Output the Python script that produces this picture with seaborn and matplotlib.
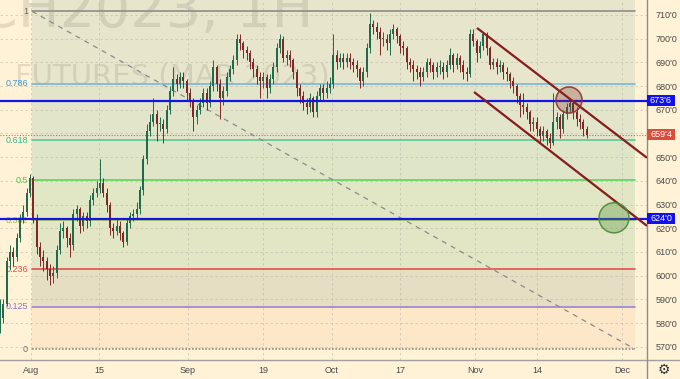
import numpy as np
import pandas as pd
import seaborn as sns
import matplotlib
matplotlib.use("Agg")
import matplotlib.pyplot as plt
import matplotlib.transforms as mtransforms
from matplotlib.patches import Ellipse, Rectangle
from matplotlib.lines import Line2D

# ---------------- data ----------------
first_open = 580
closes = [582, 588, 606, 610, 608, 616, 624, 627, 635, 641,
          624, 612, 608, 606, 603, 600, 601, 611, 619, 620,
          616, 613, 626, 628, 621, 625, 623, 632, 635, 637,
          639, 635, 630, 620, 619, 621, 618, 614, 622, 625,
          626, 628, 636, 649, 661, 665, 668, 664, 664, 662,
          670, 678, 683, 681, 684, 682, 677, 674, 667, 670,
          673, 677, 673, 680, 688, 681, 675, 678, 684, 687,
          691, 700, 698, 695, 694, 690, 687, 684, 682, 684,
          679, 683, 688, 696, 700, 692, 693, 691, 686, 679,
          676, 673, 671, 675, 669, 676, 679, 677, 679, 681,
          693, 690, 692, 690, 692, 690, 689, 687, 682, 686,
          696, 706, 705, 703, 700, 700, 698, 702, 704, 701,
          697, 696, 690, 689, 687, 686, 684, 686, 690, 689,
          686, 688, 688, 686, 689, 693, 689, 692, 689, 686,
          685, 702, 699, 694, 697, 702, 696, 689, 690, 688,
          689, 686, 685, 682, 680, 676, 672, 671, 669, 664,
          665, 662, 659, 661, 658, 656, 665, 667, 662, 668,
          671, 673, 669, 666, 665, 662, 659.5]
highs = [590, 590, 608, 613, 612, 618, 626, 630, 637, 643,
         642, 626, 614, 611, 608, 605, 604, 613, 622, 623,
         621, 618, 628, 630, 629, 627, 627, 634, 637, 640,
         649, 641, 637, 631, 622, 624, 623, 619, 624, 627,
         628, 631, 638, 651, 664, 668, 675, 670, 667, 666,
         672, 680, 688, 685, 686, 686, 683, 679, 675, 672,
         675, 679, 679, 682, 691, 689, 683, 680, 686, 689,
         693, 702, 702, 699, 697, 695, 692, 689, 686, 686,
         685, 685, 690, 698, 702, 701, 695, 695, 692, 687,
         681, 678, 675, 677, 676, 678, 681, 681, 682, 684,
         702, 695, 694, 694, 694, 694, 692, 691, 688, 688,
         698, 711, 708, 707, 705, 703, 702, 704, 706, 705,
         702, 699, 697, 692, 691, 689, 688, 688, 692, 692,
         690, 690, 691, 690, 691, 696, 694, 694, 693, 691,
         688, 704, 704, 700, 699, 703, 703, 697, 692, 692,
         691, 690, 688, 686, 684, 681, 677, 677, 673, 670,
         667, 667, 663, 663, 662, 660, 677, 669, 668, 670,
         673, 675, 674, 671, 668, 666, 663]
lows = [576, 580, 587, 603, 604, 606, 614, 622, 625, 633,
        622, 609, 604, 602, 598, 596, 597, 599, 609, 616,
        612, 608, 611, 623, 618, 619, 620, 621, 630, 633,
        635, 633, 627, 617, 616, 617, 615, 612, 613, 620,
        623, 624, 626, 634, 647, 659, 663, 657, 661, 656,
        660, 668, 676, 678, 679, 679, 674, 671, 661, 664,
        668, 671, 670, 671, 678, 678, 666, 672, 676, 682,
        685, 689, 695, 692, 691, 687, 684, 681, 675, 679,
        675, 677, 681, 686, 694, 690, 689, 688, 683, 676,
        673, 670, 668, 669, 667, 667, 674, 674, 675, 677,
        679, 687, 688, 687, 688, 687, 686, 684, 679, 680,
        684, 694, 702, 700, 693, 697, 695, 693, 700, 698,
        694, 693, 687, 686, 682, 683, 680, 682, 684, 686,
        683, 684, 685, 683, 684, 687, 686, 687, 686, 683,
        682, 684, 697, 690, 692, 695, 693, 687, 687, 685,
        686, 683, 682, 679, 677, 673, 667, 668, 666, 661,
        661, 659, 656, 657, 655, 654, 655, 662, 658, 660,
        666, 669, 666, 663, 662, 659, 658]

date_ticks = [9.3, 29.7, 56.4, 78.9, 99.6, 120.0, 142.5, 161.1, 186.6]
date_labels = ["Aug", "15", "Sep", "19", "Oct", "17", "Nov", "14", "Dec"]
price_ticks = [570, 580, 590, 600, 610, 620, 630, 640, 650, 660, 670, 680, 690, 700, 710]
hidden_price_labels = [660]   # covered by the last-price tag in the reference

fib_ratios = [1, 0.786, 0.618, 0.5, 0.382, 0.236, 0.125, 0]
fib_labels = ["1", "0.786", "0.618", "0.5", "0.382", "0.236", "0.125", "0"]
fib_high = 711.5
fib_low = 569.0
fib_x = [9.6, 190.5]

blue_levels = [673.75, 624.0]
last_price = 659.5

upper_channel_x = [143.1, 194.1]
upper_channel_y = [704.5, 649.7]
lower_channel_x = [142.2, 194.1]
lower_channel_y = [677.5, 621.0]

circle_x = [170.7, 184.2]
circle_y = [674.1, 624.4]

# ---------------- style ----------------
sns.set_theme(style="white")
plt.rcParams['font.family'] = ['Liberation Sans', 'DejaVu Sans']

BG = '#FFF2D6'
fib_line_colors = ['#8E8E86', '#7DB6D6', '#5CC89A', '#5CD65C', '#A8C850', '#E0524A', '#9C82D0', '#8E8E86']
fib_text_colors = ['#6B6B6B', '#3C9AD8', '#2DBB8A', '#4CC44C', '#9CC03C', '#E0524A', '#9070D0', '#707070']
band_colors = ['#E8E5CD', '#E3E5CB', '#DFE6C8', '#E1E6C4', '#E2E6C5', '#E6DEC3', '#FCE7C9']

W, H = 680, 379
fig = plt.figure(figsize=(6.8, 3.79), dpi=100)
fig.patch.set_facecolor(BG)
ax = fig.add_axes([0, 19 / H, 647 / W, 360 / H])
ax.set_facecolor(BG)

df = pd.DataFrame({"close": closes, "high": highs, "low": lows})
df["open"] = [first_open] + closes[:-1]
df["x"] = np.arange(len(df))
up = df["close"] >= df["open"]
up_col, dn_col = '#1F6B4C', '#7E2828'
colors = np.where(up, up_col, dn_col)

x0, x1 = 0.0, 194.1
y0, y1 = 564.4, 716.3
ax.set_xlim(x0, x1)
ax.set_ylim(y0, y1)

# fib bands
levels = [fib_low + r * (fib_high - fib_low) for r in fib_ratios]
fx = np.array(fib_x)
band_tops = [y1] + levels[1:-1]
band_bots = levels[1:]
for top, bot, col in zip(band_tops, band_bots, band_colors):
    ax.fill_between(fx, bot, top, color=col, lw=0, zorder=0.1)

# watermark
ax.text(313 / 647, 1 - 27 / 360, "ZCH2023, 1H", transform=ax.transAxes, ha='right',
        va='baseline', fontsize=40, family='DejaVu Sans', color='#8a8778', alpha=0.22, zorder=0.3)
ax.text(330 / 647, 1 - 84 / 360, "FUTURES (MAR 2023)", transform=ax.transAxes, ha='right',
        va='baseline', fontsize=21, family='DejaVu Sans', color='#8a8778', alpha=0.22, zorder=0.3)

# grid
for t in date_ticks:
    ax.axvline(t, color='#b8b4a8', lw=0.6, ls=(0, (3, 3)), alpha=0.6, zorder=0.5)
for p in price_ticks:
    ax.axhline(p, color='#b8b4a8', lw=0.6, ls=(0, (3, 3)), alpha=0.6, zorder=0.5)

# fib lines and labels
for lev, lc, tc, lab, r in zip(levels, fib_line_colors, fib_text_colors, fib_labels, fib_ratios):
    ls = (0, (1, 1)) if r == 0 else '-'
    ax.plot(fx, [lev, lev], color=lc, lw=1.2, ls=ls, zorder=1)
    ax.text(fx[0] - 1.2, lev, lab, ha='right', va='center', fontsize=6.5, color=tc, zorder=1.2)

# diagonal dashed fib trend line
ax.plot(fx, [fib_high, fib_low], color='#8a8a8a', lw=0.9, ls=(0, (4, 4)), zorder=1.1)

# current price dotted line
ax.axhline(last_price, color='#E0604F', lw=0.8, ls=(0, (1, 1.5)), zorder=1.3)

# candles
ax.vlines(df["x"], df["low"], df["high"], colors=colors, lw=0.7, zorder=2)
body_lo = np.minimum(df["open"], df["close"])
body_h = np.maximum(np.abs(df["close"] - df["open"]), 0.4)
ax.bar(df["x"], body_h, bottom=body_lo, width=0.65, color=colors, lw=0, zorder=2.1)

# blue horizontal levels
for lev in blue_levels:
    ax.axhline(lev, color='#1414E6', lw=1.6, zorder=3)

# channel lines
ax.plot(upper_channel_x, upper_channel_y, color='#861C1C', lw=1.6, zorder=3.2, solid_capstyle='butt')
ax.plot(lower_channel_x, lower_channel_y, color='#861C1C', lw=1.6, zorder=3.2, solid_capstyle='butt')

# circles
ax.add_patch(Ellipse((circle_x[0], circle_y[0]), 7.8, 11.0, facecolor='#8B2C2C', alpha=0.28,
                     edgecolor='none', zorder=3.4))
ax.add_patch(Ellipse((circle_x[0], circle_y[0]), 7.8, 11.0, facecolor='none',
                     edgecolor='#8B3030', lw=1.2, alpha=0.85, zorder=3.5))
ax.add_patch(Ellipse((circle_x[1], circle_y[1]), 9.0, 12.7, facecolor='#5E9E48', alpha=0.38,
                     edgecolor='none', zorder=3.4))
ax.add_patch(Ellipse((circle_x[1], circle_y[1]), 9.0, 12.7, facecolor='none',
                     edgecolor='#4A8A3A', lw=1.1, alpha=0.9, zorder=3.5))

# axes / ticks
for s in ['top', 'left']:
    ax.spines[s].set_visible(False)
ax.spines['right'].set_color('#8c8c8c')
ax.spines['right'].set_linewidth(1.0)
ax.spines['bottom'].set_color('#a0a0a0')
ax.spines['bottom'].set_linewidth(1.0)
ax.yaxis.tick_right()
ax.set_yticks(price_ticks)
ax.set_yticklabels(["" if p in hidden_price_labels else f"{p}'0" for p in price_ticks])
ax.set_xticks(date_ticks)
ax.set_xticklabels(date_labels)
ax.tick_params(axis='y', length=0, pad=6, labelsize=6.5, labelcolor='#4a4a4a')
ax.tick_params(axis='x', length=0, pad=4, labelsize=6.5, labelcolor='#4a4a4a')


def fmt_price(v):
    whole = int(v)
    eighth = int(round((v - whole) * 8))
    return f"{whole}'{eighth}"


trans = mtransforms.blended_transform_factory(ax.transAxes, ax.transData)
box_w = 28 / 647
box_h = 11 * (y1 - y0) / 360
for lev, col in [(blue_levels[0], '#1010F0'), (blue_levels[1], '#1010F0'), (last_price, '#DF4B3B')]:
    ax.add_patch(Rectangle((1.0, lev - box_h / 2), box_w, box_h, transform=trans,
                           facecolor=col, edgecolor='none', clip_on=False, zorder=10))
    ax.text(1.0 + box_w / 2, lev, fmt_price(lev), transform=trans, ha='center', va='center',
            fontsize=6.5, color='white', zorder=11, clip_on=False)

# frame extensions and gear icon
fig.add_artist(Line2D([647 / W, 1], [19 / H, 19 / H], color='#a0a0a0', lw=1.0))
fig.add_artist(Line2D([647 / W, 647 / W], [0, 19 / H], color='#8c8c8c', lw=1.0))
fig.text(664 / W, 9 / H, '\u2699', ha='center', va='center', fontsize=10,
         family=['DejaVu Sans'], color='#333333')

fig.savefig("out.png", dpi=100, facecolor=BG)
